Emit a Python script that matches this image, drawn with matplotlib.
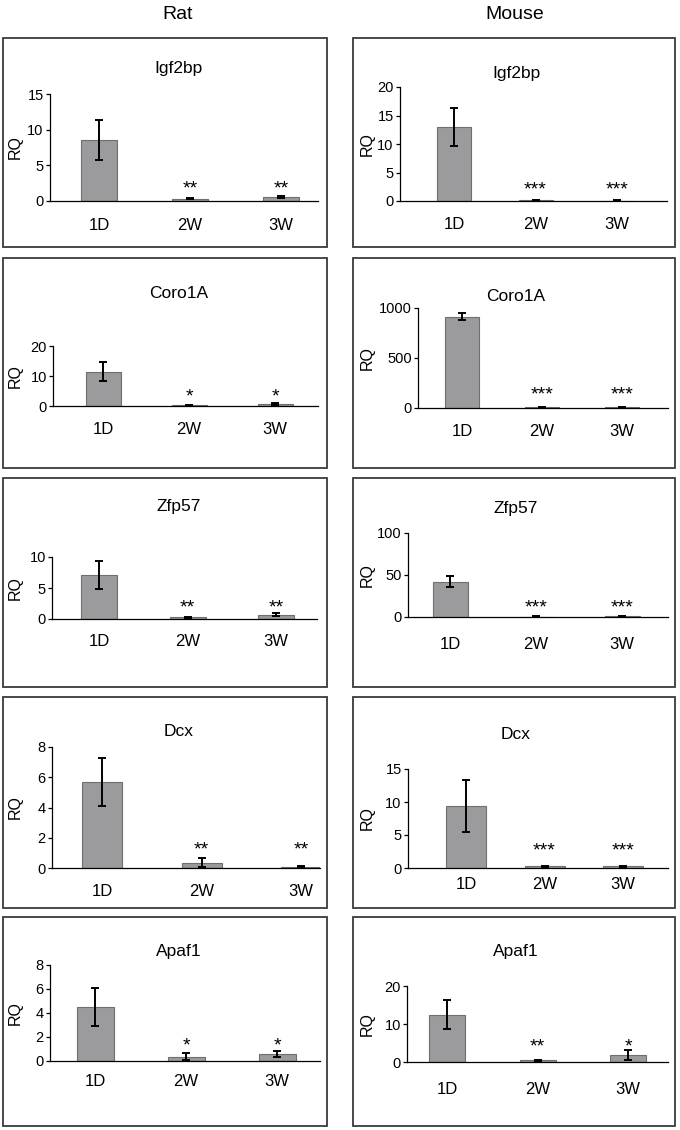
import matplotlib
matplotlib.use('Agg')
import matplotlib.pyplot as plt
from matplotlib.patches import Rectangle

plt.rcParams['font.family'] = ['Liberation Sans', 'DejaVu Sans']

# ---------------- data ----------------
categories = ['1D', '2W', '3W']
species = ['Rat', 'Mouse']
genes = ['Igf2bp', 'Coro1A', 'Zfp57', 'Dcx', 'Apaf1']

rat_igf2bp = [8.6, 0.35, 0.6]
rat_igf2bp_err = [2.8, 0.1, 0.15]
rat_igf2bp_sig = ['', '**', '**']
rat_coro1a = [11.5, 0.3, 0.8]
rat_coro1a_err = [3.3, 0.2, 0.3]
rat_coro1a_sig = ['', '*', '*']
rat_zfp57 = [7.1, 0.25, 0.7]
rat_zfp57_err = [2.25, 0.1, 0.2]
rat_zfp57_sig = ['', '**', '**']
rat_dcx = [5.7, 0.35, 0.08]
rat_dcx_err = [1.6, 0.3, 0.05]
rat_dcx_sig = ['', '**', '**']
rat_apaf1 = [4.5, 0.35, 0.55]
rat_apaf1_err = [1.6, 0.28, 0.25]
rat_apaf1_sig = ['', '*', '*']

mouse_igf2bp = [13.0, 0.1, 0.08]
mouse_igf2bp_err = [3.4, 0.05, 0.05]
mouse_igf2bp_sig = ['', '***', '***']
mouse_coro1a = [912, 6, 5]
mouse_coro1a_err = [35, 3, 3]
mouse_coro1a_sig = ['', '***', '***']
mouse_zfp57 = [42, 0.5, 0.8]
mouse_zfp57_err = [6.5, 0.2, 0.3]
mouse_zfp57_sig = ['', '***', '***']
mouse_dcx = [9.4, 0.25, 0.25]
mouse_dcx_err = [3.9, 0.1, 0.12]
mouse_dcx_sig = ['', '***', '***']
mouse_apaf1 = [12.5, 0.4, 1.8]
mouse_apaf1_err = [3.8, 0.15, 1.4]
mouse_apaf1_sig = ['', '**', '*']

rat_ymax = [15, 20, 10, 8, 8]
rat_ystep = [5, 10, 5, 2, 2]
mouse_ymax = [20, 1000, 100, 15, 20]
mouse_ystep = [5, 500, 50, 5, 10]

rat_values = [rat_igf2bp, rat_coro1a, rat_zfp57, rat_dcx, rat_apaf1]
rat_errors = [rat_igf2bp_err, rat_coro1a_err, rat_zfp57_err, rat_dcx_err, rat_apaf1_err]
rat_sigs = [rat_igf2bp_sig, rat_coro1a_sig, rat_zfp57_sig, rat_dcx_sig, rat_apaf1_sig]
mouse_values = [mouse_igf2bp, mouse_coro1a, mouse_zfp57, mouse_dcx, mouse_apaf1]
mouse_errors = [mouse_igf2bp_err, mouse_coro1a_err, mouse_zfp57_err, mouse_dcx_err, mouse_apaf1_err]
mouse_sigs = [mouse_igf2bp_sig, mouse_coro1a_sig, mouse_zfp57_sig, mouse_dcx_sig, mouse_apaf1_sig]

# ---------------- layout (pixels) ----------------
W, H = 680, 1130
box_x = [(3, 327), (353, 675)]
box_y = [(38, 247), (258, 468), (478, 687), (697, 908), (917, 1126)]
col_title_x = [178, 515]
title_x = [179, 516]
rq_x = [15, 367]
# L, R, T(ymax), Z(zero), c0, c2, bar_px, title_y, xlabel_y, star_px
rat_layout = [
    (50, 318, 94, 201, 99, 281, 36, 67, 224, 19),
    (53, 318, 346, 406, 103, 275, 35, 292, 428, 16),
    (52, 317, 557, 619, 99, 276, 36, 505, 640, 18),
    (52, 320, 747, 868, 102, 301, 40, 730, 890, 25),
    (50, 320, 965, 1061, 95, 277, 37, 950, 1080, 22),
]
mouse_layout = [
    (400, 667, 87, 201, 454, 617, 34, 72, 223, 18),
    (418, 668, 308, 408, 462, 622, 34, 295, 430, 20),
    (408, 668, 533, 617, 450, 622, 35, 507, 643, 16),
    (408, 668, 769, 868, 466, 623, 40, 733, 883, 24),
    (407, 668, 986, 1062, 447, 628, 36, 950, 1088, 22),
]

bar_color = '#9b9b9d'
bar_edge = '#6f6f6f'
box_color = '#3a3a3a'

fig = plt.figure(figsize=(W / 100, H / 100), dpi=100)

def fx(x):
    return x / W

def fy(y):
    return 1 - y / H

for col, (sp, vals_all, errs_all, sigs_all, ymaxs, ysteps, layout) in enumerate([
        ('Rat', rat_values, rat_errors, rat_sigs, rat_ymax, rat_ystep, rat_layout),
        ('Mouse', mouse_values, mouse_errors, mouse_sigs, mouse_ymax, mouse_ystep, mouse_layout)]):
    fig.text(fx(col_title_x[col]), fy(19), sp, ha='center', va='baseline', fontsize=14)
    bx0, bx1 = box_x[col]
    for row in range(5):
        by0, by1 = box_y[row]
        fig.patches.append(Rectangle((fx(bx0), fy(by1)), (bx1 - bx0) / W, (by1 - by0) / H,
                                     transform=fig.transFigure, fill=False,
                                     edgecolor=box_color, linewidth=1.3))
        L, R, T, Z, c0, c2, bpx, ty, xly, spx = layout[row]
        d = (c2 - c0) / 2.0
        ax = fig.add_axes([fx(L), fy(Z), (R - L) / W, (Z - T) / H])
        ax.set_facecolor('none')
        vals = vals_all[row]
        errs = errs_all[row]
        xs = list(range(len(categories)))
        ax.bar(xs, vals, width=bpx / d, color=bar_color, edgecolor=bar_edge, linewidth=0.8, zorder=1)
        ax.errorbar(xs, vals, yerr=errs, fmt='none', ecolor='black', elinewidth=1.4,
                    capsize=2.6, capthick=1.4, zorder=3, clip_on=False)
        ax.set_xlim((L - c0) / d, (R - c0) / d)
        ax.set_ylim(0, ymaxs[row])
        ticks = list(range(0, ymaxs[row] + 1, ysteps[row]))
        ax.set_yticks(ticks)
        ax.set_yticklabels([str(t) for t in ticks])
        ax.set_xticks([])
        for s in ['top', 'right']:
            ax.spines[s].set_visible(False)
        for s in ['left', 'bottom']:
            ax.spines[s].set_linewidth(0.9)
            ax.spines[s].set_color('black')
        ax.tick_params(axis='y', direction='out', length=3, width=0.9, pad=1.5, labelsize=10.5)
        for i, cat in enumerate(categories):
            ax.annotate(cat, xy=(i, 0), xycoords='data', xytext=(0, -(xly - Z) - 6),
                        textcoords='offset pixels', ha='center', va='baseline', fontsize=12,
                        annotation_clip=False)
            s = sigs_all[row][i]
            if s:
                ax.annotate(s, xy=(i, 0), xycoords='data', xytext=(0, spx - 11),
                            textcoords='offset pixels', ha='center', va='baseline', fontsize=14,
                            annotation_clip=False)
        fig.text(fx(title_x[col]), fy(ty + 6), genes[row], ha='center', va='baseline', fontsize=12.5)
        fig.text(fx(rq_x[col]), fy((T + Z) / 2), 'RQ', rotation=90, ha='center', va='center', fontsize=11.5)

fig.savefig('out.png', dpi=100)
